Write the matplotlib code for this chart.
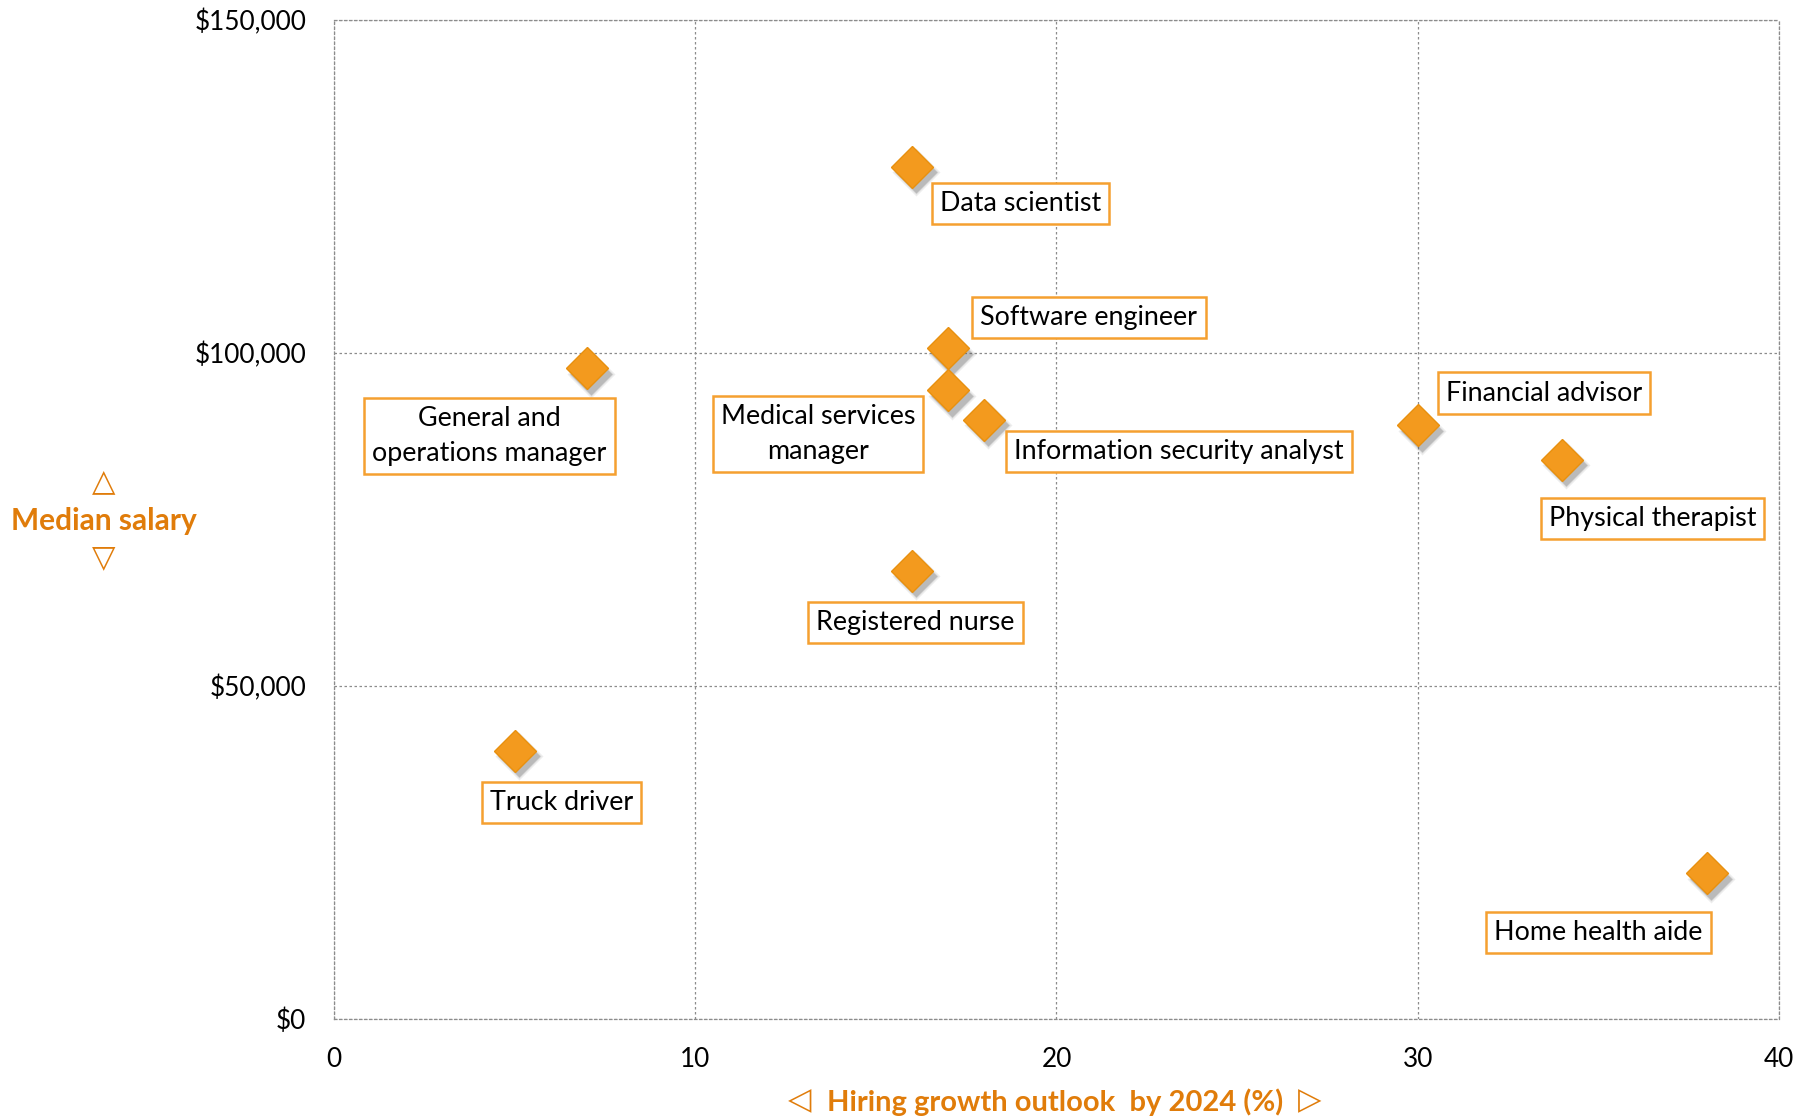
import matplotlib
matplotlib.use("Agg")
import matplotlib.pyplot as plt
from matplotlib.transforms import offset_copy
from matplotlib.ticker import FuncFormatter

# Occupations: hiring growth outlook (%) vs. median salary ($)
jobs = ["Data scientist", "Software engineer", "Medical services\nmanager",
        "Information security analyst", "General and\noperations manager",
        "Financial advisor", "Physical therapist", "Registered nurse",
        "Truck driver", "Home health aide"]
growth = [16, 17, 17, 18, 7, 30, 34, 16, 5, 38]
salary = [128000, 100700, 94400, 90000, 97700, 89200, 84000, 67300, 40300, 21900]

# Where each label box sits (data coordinates, box centre)
label_x = [19.0, 20.9, 13.4, 23.4, 4.3, 33.5, 36.5, 16.1, 6.3, 35.0]
label_y = [122500, 105300, 87800, 85200, 87600, 94000, 75100, 59600, 32500, 13000]

x_ticks = [0, 10, 20, 30, 40]
y_ticks = [0, 50000, 100000, 150000]

orange = "#F39A1E"
edge_orange = "#F5A030"
title_orange = "#E07C0A"

plt.rcParams["font.family"] = ["Lato", "DejaVu Sans"]

fig = plt.figure(figsize=(18.16, 11.2), dpi=100)
ax = fig.add_axes([0.1839, 0.0902, 0.9796 - 0.1839, 0.982 - 0.0902])

ax.set_xlim(0, 40)
ax.set_ylim(0, 150000)
ax.set_xticks(x_ticks)
ax.set_yticks(y_ticks)
ax.yaxis.set_major_formatter(FuncFormatter(lambda v, p: f"${v:,.0f}"))
ax.tick_params(length=0, labelsize=18.8, colors="black", pad=20)
ax.grid(True, linestyle=(0, (2, 2)), color="#8c8c8c", linewidth=0.9)
for s in ax.spines.values():
    s.set_linestyle((0, (2, 2)))
    s.set_color("#8c8c8c")
    s.set_linewidth(0.9)
ax.set_axisbelow(True)

# Soft drop shadow under the diamonds
for (dx, dy, a, grow) in [(3, -4, 0.10, 3), (3, -4, 0.14, 1.5), (3, -4, 0.22, 0)]:
    shadow_tr = offset_copy(ax.transData, fig=fig, x=dx, y=dy, units="points")
    ax.plot(growth, salary, linestyle="none", marker="D", markersize=21 + grow,
            markerfacecolor="#555555", markeredgecolor="none", alpha=a,
            transform=shadow_tr, zorder=2)

ax.plot(growth, salary, linestyle="none", marker="D", markersize=21,
        markerfacecolor=orange, markeredgecolor="#E8900F", markeredgewidth=1.0,
        zorder=3)

for name, lx, ly in zip(jobs, label_x, label_y):
    ax.text(lx, ly, name, ha="center", va="center", fontsize=19.4, color="black",
            linespacing=1.5, zorder=4,
            bbox=dict(boxstyle="square,pad=0.3", facecolor="white",
                      edgecolor=edge_orange, linewidth=1.8))

# Axis titles with direction arrows
fig.text(104 / 1816, 1 - 521 / 1120, "Median salary", ha="center", va="center",
         fontsize=21.5, fontweight="bold", color=title_orange)
fig.text(104 / 1816, 1 - 482 / 1120, "\u25b3", ha="center", va="center",
         fontsize=22, color=title_orange, family="DejaVu Sans")
fig.text(104 / 1816, 1 - 558 / 1120, "\u25bd", ha="center", va="center",
         fontsize=22, color=title_orange, family="DejaVu Sans")

fig.text(1055 / 1816, 1 - 1102 / 1120, "Hiring growth outlook  by 2024 (%)", ha="center",
         va="center", fontsize=21, fontweight="bold", color=title_orange)
fig.text(800 / 1816, 1 - 1101 / 1120, "\u25c1", ha="center", va="center",
         fontsize=22, color=title_orange, family="DejaVu Sans")
fig.text(1310 / 1816, 1 - 1101 / 1120, "\u25b7", ha="center", va="center",
         fontsize=22, color=title_orange, family="DejaVu Sans")

fig.savefig("out.png", dpi=100, facecolor="white")
